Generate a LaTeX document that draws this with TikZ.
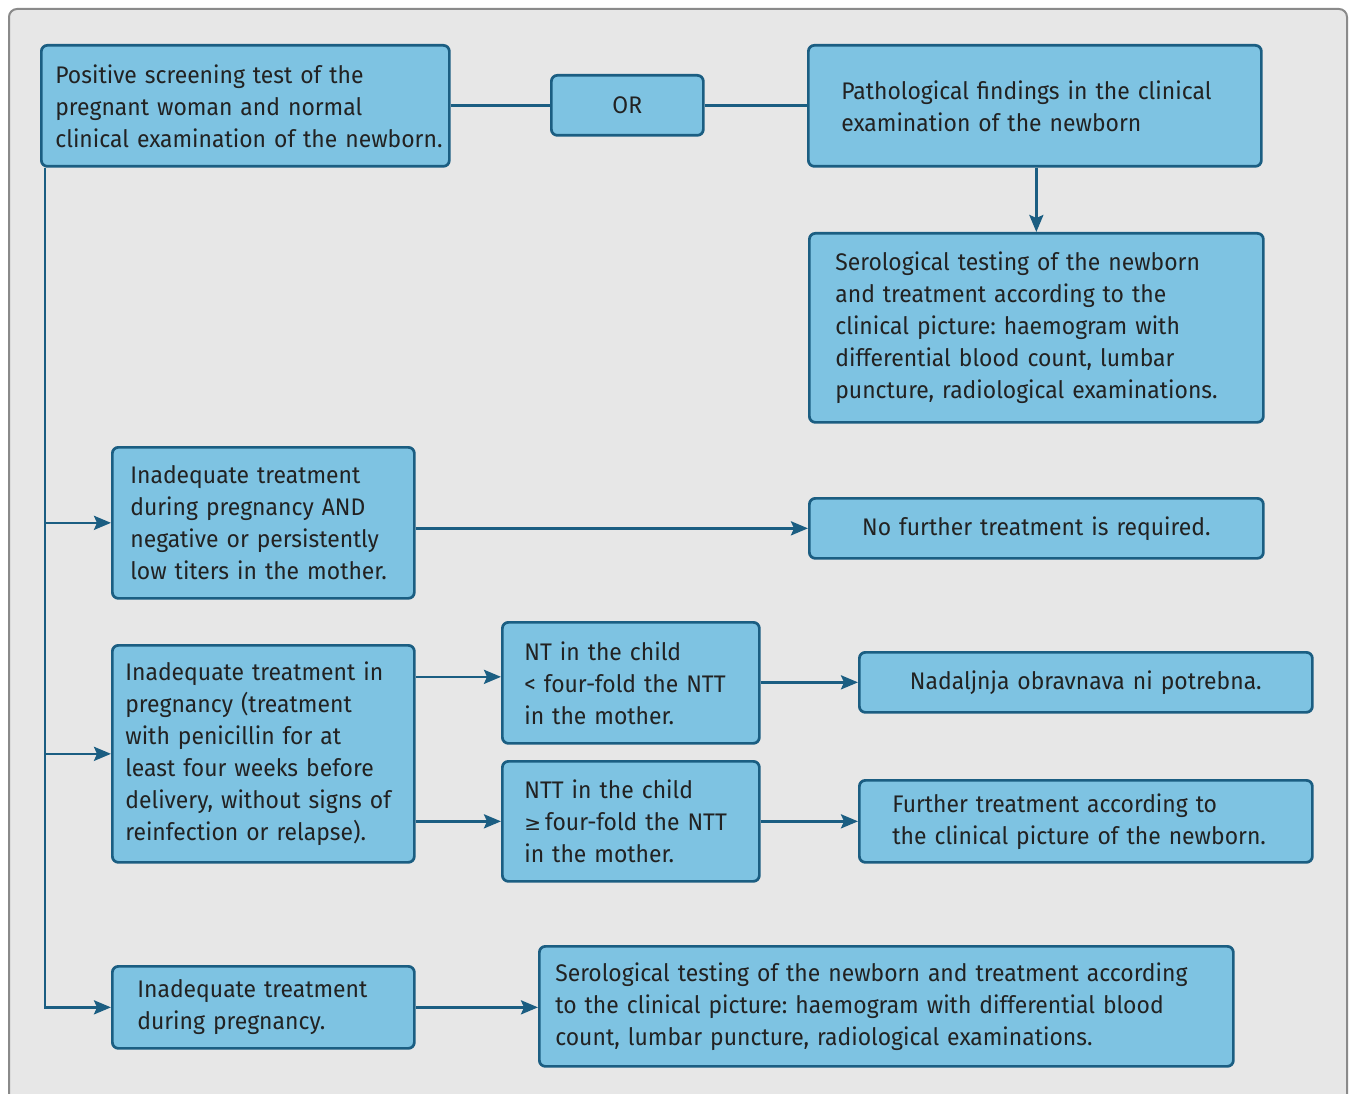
\documentclass[tikz,border=0pt]{standalone}
\usepackage{fontspec}
\setmainfont{Fira Sans}[FakeStretch=0.955,WordSpace=0.75]
\newfontfamily\symfont{DejaVu Sans}
\usetikzlibrary{arrows.meta,calc}
\definecolor{boxfill}{HTML}{7EC3E2}
\definecolor{boxline}{HTML}{1B5E82}
\definecolor{txt}{HTML}{222222}
\definecolor{panel}{HTML}{E7E7E7}
\definecolor{panelline}{HTML}{8A8A8A}
\newcommand\oneline[1]{\mbox{#1}}
\begin{document}
\frenchspacing
\begin{tikzpicture}[x=1pt,y=-1pt,
  box/.style={draw=boxline, fill=boxfill, line width=2.7pt, rounded corners=6pt,
    anchor=north west, align=left, text=txt, inner ysep=0pt,
    font=\fontsize{24}{32}\selectfont,
    execute at begin node={\frenchspacing\hyphenpenalty=10000\exhyphenpenalty=10000\hbadness=10000\hfuzz=50pt}},
  arr/.style={draw=boxline, line width=2.7pt, -{Stealth[length=17pt,width=14pt,inset=3pt]}},
  ln/.style={draw=boxline, line width=2.7pt}]
\useasboundingbox (0,0) rectangle (1353,1094);
\fill[white] (0,0) rectangle (1353,1094);
\draw[panelline, fill=panel, line width=2pt, rounded corners=8pt] (9,9) rectangle (1347,1110);

% top row
\node[box, inner xsep=14pt, text width=380pt, minimum height=121pt] (A) at (40,44)
  {\oneline{Positive screening test of the}\\\oneline{pregnant woman and normal}\\\oneline{clinical examination of the newborn.}};
\node[box, inner xsep=0pt, text width=152pt, minimum height=60pt, align=center] (OR) at (550,74) {OR};
\node[box, inner xsep=33pt, text width=387pt, minimum height=121pt] (B) at (807,44)
  {\oneline{Pathological findings in the clinical}\\\oneline{examination of the newborn}};
\node[box, inner xsep=26pt, text width=402pt, minimum height=189pt] (C) at (808,232)
  {\oneline{Serological testing of the newborn}\\\oneline{and treatment according to the}\\\oneline{clinical picture: haemogram with}\\\oneline{differential blood count, lumbar}\\\oneline{puncture, radiological examinations.}};

% left column
\node[box, inner xsep=18pt, text width=266pt, minimum height=151pt] (D1) at (111,446)
  {\oneline{Inadequate treatment}\\\oneline{during pregnancy AND}\\\oneline{negative or persistently}\\\oneline{low titers in the mother.}};
\node[box, inner xsep=0pt, text width=454pt, minimum height=60pt, align=center] (E) at (808,497)
  {No further treatment is required.};
\node[box, inner xsep=13pt, text width=276pt, minimum height=217pt] (D2) at (111,644)
  {\oneline{Inadequate treatment in}\\\oneline{pregnancy (treatment}\\\oneline{with penicillin for at}\\\oneline{least four weeks before}\\\oneline{delivery, without signs of}\\\oneline{reinfection or relapse).}};
\node[box, inner xsep=22pt, text width=213pt, minimum height=121pt] (N1) at (501,621)
  {\oneline{NT in the child}\\\oneline{< four-fold the NTT}\\\oneline{in the mother.}};
\node[box, inner xsep=22pt, text width=213pt, minimum height=120pt] (N2) at (501,760)
  {\oneline{NTT in the child}\\\oneline{{\symfont\fontsize{20}{32}\selectfont ≥}\,four-fold the NTT}\\\oneline{in the mother.}};
\node[box, inner xsep=0pt, text width=453pt, minimum height=60pt, align=center] (F1) at (858,651)
  {Nadaljnja obravnava ni potrebna.};
\node[box, inner xsep=33pt, text width=387pt, minimum height=82pt] (F2) at (858,779)
  {\oneline{Further treatment according to}\\\oneline{the clinical picture of the newborn.}};
\node[box, inner xsep=25pt, text width=252pt, minimum height=82pt] (D3) at (111,965)
  {\oneline{Inadequate treatment}\\\oneline{during pregnancy.}};
\node[box, inner xsep=16pt, text width=662pt, minimum height=120pt] (G) at (538,945)
  {\oneline{Serological testing of the newborn and treatment according}\\\oneline{to the clinical picture: haemogram with differential blood}\\\oneline{count, lumbar puncture, radiological examinations.}};

% connectors
\draw[ln] (A.east) -- (A.east -| OR.west);
\draw[ln] (OR.east) -- (OR.east -| B.west);
\draw[arr] (B.south -| C.north) -- (C.north);
\coordinate (t0) at ([xshift=5pt]A.south west);
\draw[arr] (t0) |- (D3.west);
\draw[arr] (t0 |- D1.west) -- (D1.west);
\draw[arr] (t0 |- D2.west) -- (D2.west);
\draw[arr] (D1.east |- E.west) -- (E.west);
\coordinate (m1) at ([yshift=6pt]N1.west);
\draw[arr] (D2.east |- m1) -- (m1);
\draw[arr] (D2.east |- N2.west) -- (N2.west);
\draw[arr] (N1.east |- F1.west) -- (F1.west);
\draw[arr] (N2.east |- F2.west) -- (F2.west);
\draw[arr] (D3.east) -- (D3.east -| G.west);
\end{tikzpicture}
\end{document}
